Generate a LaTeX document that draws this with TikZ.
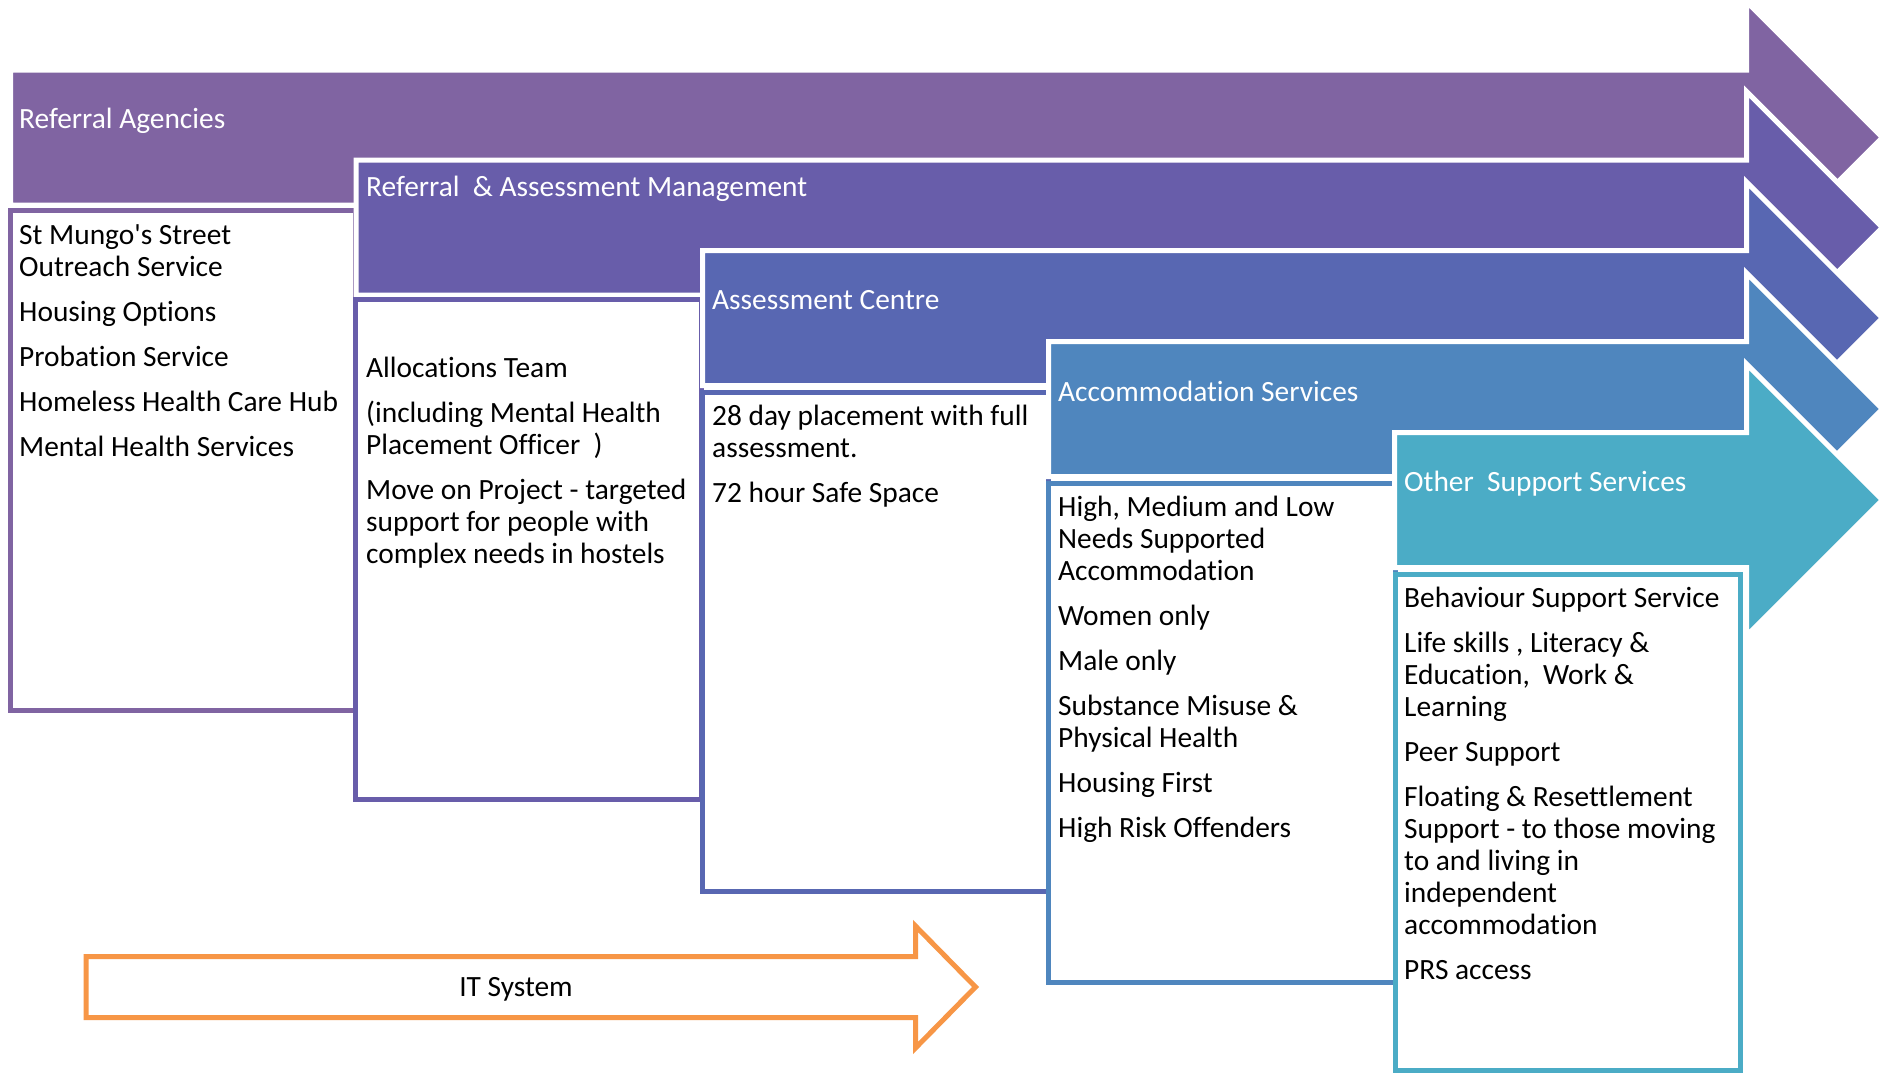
\documentclass[tikz,border=0pt]{standalone}
\usepackage{fontspec}
\setmainfont[Ligatures={TeX,NoCommon}]{Carlito}
\definecolor{bandA}{HTML}{8064A2}
\definecolor{bandB}{HTML}{685DAA}
\definecolor{bandC}{HTML}{5867B2}
\definecolor{bandD}{HTML}{4F86BE}
\definecolor{bandE}{HTML}{4BACC6}
\definecolor{itorange}{HTML}{F79646}
% first-line strut: baseline sits 24pt below the node's top edge
\newcommand\lead{\rule{0pt}{24pt}}
% a wide stage arrow: colour, left edge, centre line
\newcommand\stagearrow[3]{%
  \draw[band=#1] (#2-2.5,#3-67.5) -- (1746.5,#3-67.5) -- (1746.5,#3-136)
    -- (1882.5,#3) -- (1746.5,#3+136) -- (1746.5,#3+67.5) -- (#2-2.5,#3+67.5) -- cycle;}
\begin{document}
\begin{tikzpicture}[x=1pt,y=-1pt,
  band/.style={fill=#1,draw=white,line width=5pt,line join=miter},
  panel/.style={fill=white,draw=#1,line width=5pt},
  txt/.style={anchor=north west,inner sep=0pt,align=left,font=\fontsize{29.4}{32}\selectfont},
  title/.style={txt,text=white},
  itemlist/.style={txt,text=black}]
\useasboundingbox[fill=white] (0,0) rectangle (1881,1073);

% stage 1
\stagearrow{bandA}{13}{137.5}
\draw[panel=bandA] (10.5,210.5) rectangle (355.5,710.5);
\node[title] (ra) at (19,104) {\lead Referral Agencies};
\node[itemlist] (list1) at (19,220) {\lead St Mungo\textquotesingle s Street\\
Outreach Service\\[13pt]
Housing Options\\[13pt]
Probation Service\\[13pt]
Homeless Health Care Hub\\[13pt]
Mental Health Services};

% stage 2
\stagearrow{bandB}{358.5}{227.5}
\draw[panel=bandB] (355.5,299.5) rectangle (701.5,799.5);
\node[title] (ram) at (366,172) {\lead Referral~~\& Assessment Management};
\node[itemlist] (list2) at (366,353) {\lead Allocations Team\\[13pt]
(including Mental Health\\
Placement Officer~~)\\[13pt]
Move on Project - targeted\\
support for people with\\
complex needs in hostels};

% stage 3
\stagearrow{bandC}{705}{318}
\draw[panel=bandC] (702.5,392) rectangle (1048.5,891.5);
\node[title] (ac) at (712,285) {\lead Assessment Centre};
\node[itemlist] (list3) at (712,401) {\lead 28 day placement with full\\
assessment.\\[13pt]
72 hour Safe Space};

% stage 4
\stagearrow{bandD}{1051}{409}
\draw[panel=bandD] (1048.5,483.5) rectangle (1395,982.5);
\node[title] (as) at (1058,377) {\lead Accommodation Services};
\node[itemlist] (list4) at (1058,492) {\lead High, Medium and Low\\
Needs Supported\\
Accommodation\\[13pt]
Women only\\[13pt]
Male only\\[13pt]
Substance Misuse \&\\
Physical Health\\[13pt]
Housing First\\[13pt]
High Risk Offenders};

% stage 5
\stagearrow{bandE}{1397}{500}
\draw[panel=bandE] (1395,574.5) rectangle (1740.5,1070.5);
\node[title] (oss) at (1404,467) {\lead Other~~Support Services};
\node[itemlist] (list5) at (1404,583) {\lead Behaviour Support Service\\[13pt]
Life skills , Literacy \&\\
Education,~~Work \&\\
Learning\\[13pt]
Peer Support\\[13pt]
Floating \& Resettlement\\
Support - to those moving\\
to and living in\\
independent\\
accommodation\\[13pt]
PRS access};

% IT system outline arrow
\draw[itorange,line width=5pt,line join=miter,fill=white]
  (86,956.5) -- (915.5,956.5) -- (915.5,926) -- (975.5,987)
  -- (915.5,1048) -- (915.5,1017.5) -- (86,1017.5) -- cycle;
\node[anchor=base,inner sep=0pt,font=\fontsize{29.4}{32}\selectfont] (it) at (516,996) {IT System};
\end{tikzpicture}
\end{document}
